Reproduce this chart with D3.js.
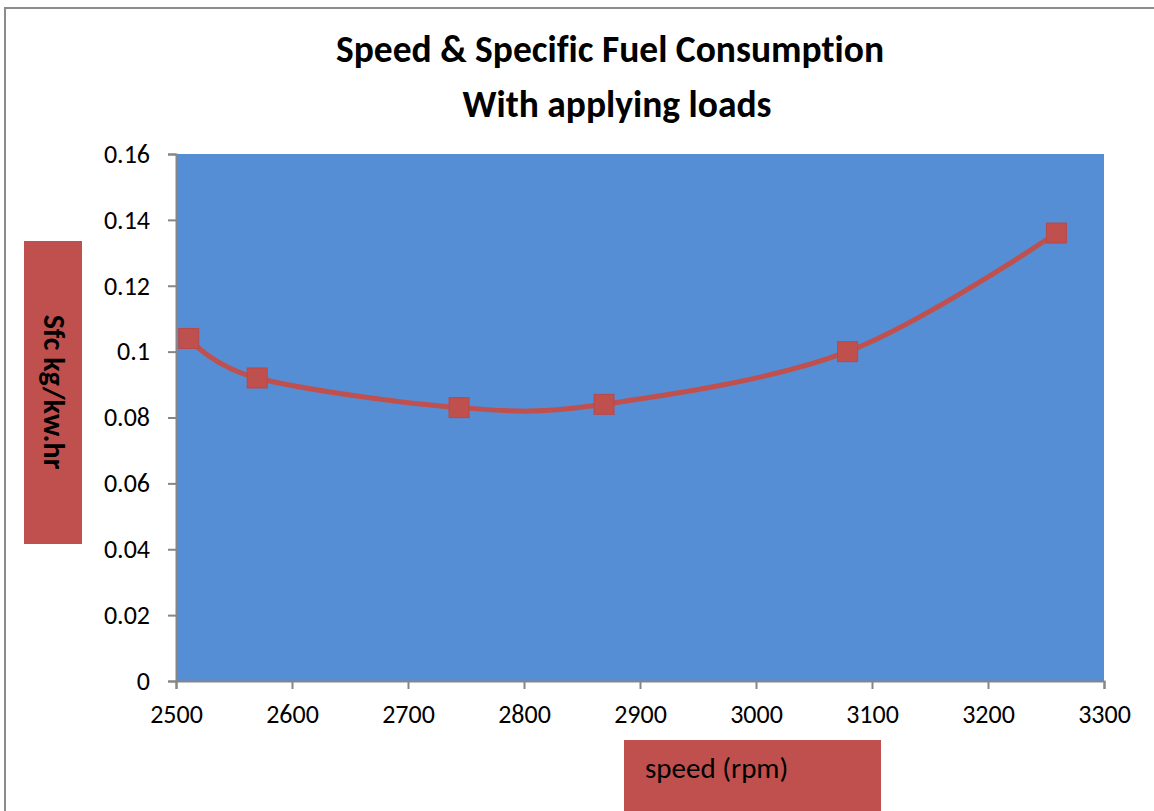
<!DOCTYPE html>
<html>
<head>
<meta charset="utf-8">
<script src="https://cdn.jsdelivr.net/npm/d3@7"></script>
<style>
  html, body { margin: 0; padding: 0; background: #fff; }
  svg { display: block; }
  svg text { font-variant-ligatures: none; font-feature-settings: "liga" 0, "clig" 0; }
</style>
</head>
<body>
<svg id="chart" width="1154" height="811"></svg>
<script>
// Engine speed (rpm) and specific fuel consumption (kg/kW.hr)
const speedRpm = [2511, 2570, 2744, 2869, 3079, 3259];
const sfcValues = [0.104, 0.092, 0.083, 0.084, 0.100, 0.136];
const xTicks = [2500, 2600, 2700, 2800, 2900, 3000, 3100, 3200, 3300];
const yTicks = [0, 0.02, 0.04, 0.06, 0.08, 0.1, 0.12, 0.14, 0.16];
const titleLines = ["Speed & Specific Fuel Consumption", "With applying loads"];
const xTitle = "speed (rpm)";
const yTitle = "Sfc kg/kw.hr";

const svg = d3.select("#chart");
const font = "Carlito, Lato, 'Open Sans', sans-serif";
const red = "#C0504D";

// Chart frame
svg.append("rect")
  .attr("x", 5).attr("y", 8)
  .attr("width", 1200).attr("height", 900)
  .attr("fill", "#fff")
  .attr("stroke", "#8c8c8c").attr("stroke-width", 2);

const plot = { left: 176, top: 154, right: 1104, bottom: 681 };

const x = d3.scaleLinear().domain([2500, 3300]).range([plot.left, plot.right]);
const y = d3.scaleLinear().domain([0, 0.16]).range([plot.bottom, plot.top]);

// Plot area background
svg.append("rect")
  .attr("x", plot.left).attr("y", plot.top)
  .attr("width", plot.right - plot.left).attr("height", plot.bottom - plot.top)
  .attr("fill", "#558ED5");

// Axes
const yAxis = svg.append("g")
  .attr("transform", `translate(${plot.left},0)`)
  .call(d3.axisLeft(y).tickValues(yTicks).tickSize(8).tickPadding(18)
    .tickFormat(d => d === 0 ? "0" : String(+d.toFixed(2))));
const xAxis = svg.append("g")
  .attr("transform", `translate(0,${plot.bottom})`)
  .call(d3.axisBottom(x).tickValues(xTicks).tickSize(8).tickPadding(16)
    .tickFormat(d3.format("d")));

[xAxis, yAxis].forEach(g => {
  g.select(".domain").attr("stroke", "#868686").attr("stroke-width", 2);
  g.selectAll(".tick line").attr("stroke", "#868686").attr("stroke-width", 2);
  g.selectAll(".tick text")
    .attr("fill", "#000")
    .style("font-family", font)
    .style("font-size", "26px");
});
xAxis.selectAll(".tick text").attr("dy", "0.71em");

// Title
svg.append("text")
  .attr("x", 610).attr("y", 62)
  .attr("text-anchor", "middle")
  .style("font-family", font).style("font-weight", "bold").style("font-size", "37.5px")
  .text(titleLines[0]);
svg.append("text")
  .attr("x", 617).attr("y", 117)
  .attr("text-anchor", "middle")
  .style("font-family", font).style("font-weight", "bold").style("font-size", "37.5px")
  .text(titleLines[1]);

// Y axis title box
svg.append("rect")
  .attr("x", 24).attr("y", 241).attr("width", 58).attr("height", 303)
  .attr("fill", red);
svg.append("text")
  .attr("transform", "translate(44,392) rotate(90)")
  .attr("text-anchor", "middle")
  .style("font-family", font).style("font-weight", "bold").style("font-size", "30px")
  .text(yTitle);

// X axis title box
svg.append("rect")
  .attr("x", 624).attr("y", 740).attr("width", 257).attr("height", 80)
  .attr("fill", red);
svg.append("text")
  .attr("x", 645).attr("y", 778)
  .style("font-family", font).style("font-size", "29px")
  .text(xTitle);

// Smoothed series line
const points = speedRpm.map((s, i) => [s, sfcValues[i]]);
svg.append("path")
  .datum(points)
  .attr("fill", "none")
  .attr("stroke", red)
  .attr("stroke-width", 5)
  .attr("d", d3.line().x(d => x(d[0])).y(d => y(d[1])).curve(d3.curveCatmullRom.alpha(0)));

// Square markers
const m = 20;
svg.selectAll("rect.marker")
  .data(points)
  .enter().append("rect")
  .attr("class", "marker")
  .attr("x", d => x(d[0]) - m / 2)
  .attr("y", d => y(d[1]) - m / 2)
  .attr("width", m).attr("height", m)
  .attr("fill", red)
  .attr("stroke", "#b8484a").attr("stroke-width", 1);
</script>
</body>
</html>
